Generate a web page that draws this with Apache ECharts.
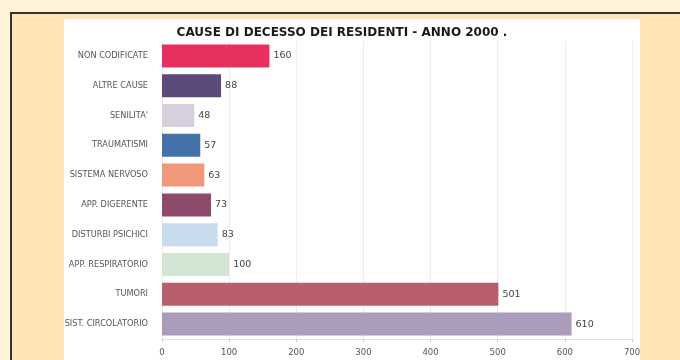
<!DOCTYPE html>
<html>
<head>
<meta charset="utf-8">
<script src="https://cdn.jsdelivr.net/npm/echarts@6/dist/echarts.min.js"></script>
<style>
html,body{margin:0;padding:0;width:680px;height:360px;overflow:hidden;background:#fff4d8;}
#frame{position:absolute;left:10px;top:12px;width:700px;height:400px;background:#ffe4b6;border-left:2px solid #333;border-top:2px solid #333;}
#panel{position:absolute;left:64px;top:19px;width:576px;height:341px;background:#ffffff;}
#chart{position:absolute;left:0;top:0;width:680px;height:360px;}
</style>
</head>
<body>
<div id="frame"></div>
<div id="panel"></div>
<div id="chart"></div>
<script>
const categories = ["NON CODIFICATE","ALTRE CAUSE","SENILITA'","TRAUMATISMI","SISTEMA NERVOSO","APP. DIGERENTE","DISTURBI PSICHICI","APP. RESPIRATORIO","TUMORI","SIST. CIRCOLATORIO"];
const values = [160, 88, 48, 57, 63, 73, 83, 100, 501, 610];
const barColors = ["#e8305f","#5b4a7c","#d6cfde","#4272a8","#f1987b","#8e4a6b","#c9dcee","#d2e5d3","#b95e6c","#aa9cba"];
const title = "CAUSE DI DECESSO DEI RESIDENTI - ANNO 2000 .";

const chart = echarts.init(document.getElementById('chart'), null, {renderer:'canvas'});
chart.setOption({
  backgroundColor: 'transparent',
  animation: false,
  title: {
    text: title, left: 337, top: 22, textAlign: 'center',
    textStyle: {fontFamily: 'DejaVu Sans', fontSize: 12, fontWeight: 'bold', color: '#1a1a1a'}
  },
  grid: {left: 162, right: 48, top: 41, bottom: 21, containLabel: false},
  xAxis: {
    type: 'value', min: 0, max: 700, interval: 100,
    axisLine: {show: true, lineStyle: {color: '#e2e2e2'}},
    axisTick: {show: true, length: 3, lineStyle: {color: '#d0d0d0'}},
    axisLabel: {fontSize: 8.5, color: '#555', margin: 9, fontFamily: 'DejaVu Sans'},
    splitLine: {show: true, lineStyle: {color: '#ececec'}}
  },
  yAxis: {
    type: 'category', data: categories, inverse: true,
    axisLine: {show: false}, axisTick: {show: false},
    axisLabel: {fontSize: 8.2, color: '#555', margin: 14, fontFamily: 'DejaVu Sans'}
  },
  series: [{
    type: 'bar',
    data: values.map((v, i) => ({value: v, itemStyle: {color: barColors[i]}})),
    barWidth: 23,
    label: {show: true, position: 'right', distance: 4, fontSize: 9.5, color: '#444', fontFamily: 'DejaVu Sans'}
  }]
});
</script>
</body>
</html>
